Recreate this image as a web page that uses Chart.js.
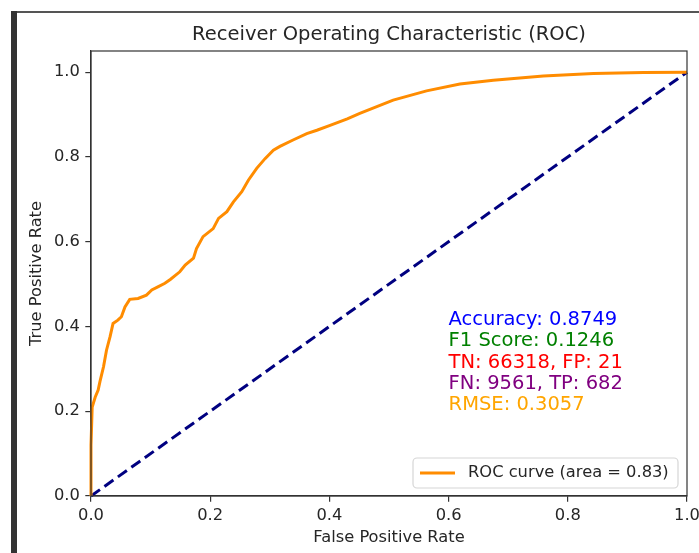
<!DOCTYPE html>
<html>
<head>
<meta charset="utf-8">
<script src="https://cdn.jsdelivr.net/npm/chart.js@4.4.0/dist/chart.umd.min.js"></script>
<style>
  html, body { margin: 0; padding: 0; background: #fff; }
  #wrap { position: relative; width: 699px; height: 553px; overflow: hidden; background: #fff; }
  #c { position: absolute; left: 0; top: 0; }
  #edgeL { position: absolute; left: 11px; top: 11px; width: 6px; height: 542px; background: #333; }
  #edgeT { position: absolute; left: 17px; top: 11px; width: 682px; height: 2px; background: #555; }
</style>
</head>
<body>
<div id="wrap">
  <canvas id="c" width="699" height="553"></canvas>
  <div id="edgeL"></div>
  <div id="edgeT"></div>
</div>
<script>
// ---- data ----
const fpr = [0, 0.0, 0.002, 0.007, 0.012, 0.015, 0.021, 0.026, 0.032, 0.037, 0.045, 0.051, 0.057, 0.065, 0.079, 0.093, 0.102, 0.113, 0.124, 0.133, 0.149, 0.158, 0.172, 0.177, 0.188, 0.205, 0.214, 0.228, 0.239, 0.253, 0.264, 0.278, 0.292, 0.306, 0.317, 0.339, 0.362, 0.379, 0.40, 0.43, 0.451, 0.507, 0.563, 0.619, 0.675, 0.759, 0.843, 0.927, 1.0];
const tpr = [0, 0.12, 0.21, 0.233, 0.25, 0.27, 0.305, 0.344, 0.376, 0.407, 0.415, 0.423, 0.446, 0.464, 0.466, 0.474, 0.486, 0.494, 0.502, 0.511, 0.529, 0.545, 0.561, 0.584, 0.612, 0.631, 0.655, 0.671, 0.694, 0.718, 0.745, 0.773, 0.796, 0.816, 0.825, 0.840, 0.855, 0.863, 0.874, 0.890, 0.903, 0.934, 0.956, 0.972, 0.981, 0.991, 0.997, 0.999, 1.0];
const chanceX = [0, 1];
const chanceY = [0, 1];
const xTicks = [0, 0.2, 0.4, 0.6, 0.8, 1.0];
const yTicks = [0, 0.2, 0.4, 0.6, 0.8, 1.0];
const rocLabel = 'ROC curve (area = 0.83)';
const titleText = 'Receiver Operating Characteristic (ROC)';
const xLabel = 'False Positive Rate';
const yLabel = 'True Positive Rate';
const metricLines = ['Accuracy: 0.8749', 'F1 Score: 0.1246', 'TN: 66318, FP: 21', 'FN: 9561, TP: 682', 'RMSE: 0.3057'];
const metricColors = ['#0000ff', '#008000', '#ff0000', '#800080', '#ffa500'];
const metricX = 0.6;
const metricY = [0.415, 0.365, 0.315, 0.265, 0.215];

const FONT = '"DejaVu Sans", sans-serif';
const TXT = '#262626';

const overlay = {
  id: 'overlay',
  afterDraw(chart) {
    const ctx = chart.ctx;
    const a = chart.chartArea;
    const xs = chart.scales.x, ys = chart.scales.y;
    ctx.save();
    // frame top/right
    ctx.strokeStyle = '#333';
    ctx.lineWidth = 1.2;
    ctx.strokeRect(a.left, a.top, a.right - a.left, a.bottom - a.top);
    // title
    ctx.fillStyle = TXT;
    ctx.textAlign = 'center';
    ctx.textBaseline = 'middle';
    ctx.font = '19.5px ' + FONT;
    ctx.fillText(titleText, (a.left + a.right) / 2, 35);
    // axis labels
    ctx.font = '16.3px ' + FONT;
    ctx.fillText(xLabel, (a.left + a.right) / 2, 538);
    ctx.save();
    ctx.translate(37, (a.top + a.bottom) / 2);
    ctx.rotate(-Math.PI / 2);
    ctx.fillText(yLabel, 0, 0);
    ctx.restore();
    // metric annotations
    ctx.textAlign = 'left';
    ctx.font = '19.5px ' + FONT;
    metricLines.forEach((t, i) => {
      ctx.fillStyle = metricColors[i];
      ctx.fillText(t, xs.getPixelForValue(metricX), ys.getPixelForValue(metricY[i]));
    });
    // legend
    const lx = 413, ly = 458, lw = 265, lh = 30, r = 4;
    ctx.beginPath();
    ctx.moveTo(lx + r, ly);
    ctx.arcTo(lx + lw, ly, lx + lw, ly + lh, r);
    ctx.arcTo(lx + lw, ly + lh, lx, ly + lh, r);
    ctx.arcTo(lx, ly + lh, lx, ly, r);
    ctx.arcTo(lx, ly, lx + lw, ly, r);
    ctx.closePath();
    ctx.fillStyle = 'rgba(255,255,255,0.8)';
    ctx.fill();
    ctx.strokeStyle = '#d6d6d6';
    ctx.lineWidth = 1.2;
    ctx.stroke();
    ctx.beginPath();
    ctx.strokeStyle = '#ff8c00';
    ctx.lineWidth = 3;
    ctx.moveTo(420, ly + lh / 2);
    ctx.lineTo(455, ly + lh / 2);
    ctx.stroke();
    ctx.fillStyle = TXT;
    ctx.font = '16.3px ' + FONT;
    ctx.textBaseline = 'middle';
    ctx.fillText(chart.data.datasets[0].label, 468, ly + lh / 2);
    ctx.restore();
  }
};

function fitX(s) { s.height = 57; s.paddingLeft = 0; s.paddingRight = 0; s.paddingTop = 0; s.paddingBottom = 0; }
function fitY(s) { s.width = 91; s.paddingLeft = 0; s.paddingRight = 0; s.paddingTop = 0; s.paddingBottom = 0; }

new Chart(document.getElementById('c'), {
  type: 'line',
  data: {
    datasets: [
      {
        label: rocLabel,
        data: fpr.map((x, i) => ({ x: x, y: tpr[i] })),
        borderColor: '#ff8c00',
        borderWidth: 3,
        pointRadius: 0,
        tension: 0,
        fill: false
      },
      {
        label: 'chance',
        data: chanceX.map((x, i) => ({ x: x, y: chanceY[i] })),
        borderColor: '#000080',
        borderWidth: 3,
        borderDash: [11, 5.5],
        pointRadius: 0,
        tension: 0,
        fill: false
      }
    ]
  },
  options: {
    responsive: false,
    animation: false,
    devicePixelRatio: 1,
    clip: false,
    layout: { padding: { left: 0, right: 12, top: 51, bottom: 0 } },
    plugins: { legend: { display: false }, title: { display: false }, tooltip: { enabled: false } },
    scales: {
      x: {
        type: 'linear', min: 0, max: 1,
        afterBuildTicks: s => { s.ticks = xTicks.map(v => ({ value: v })); },
        afterFit: fitX,
        grid: { drawOnChartArea: false, drawTicks: true, tickLength: 5.7, color: '#333', lineWidth: 1.2 },
        border: { display: true, color: '#333', width: 1.2 },
        ticks: { padding: 4, color: TXT, font: { family: FONT, size: 16.3 }, maxRotation: 0, autoSkip: false, callback: v => Number(v).toFixed(1) }
      },
      y: {
        type: 'linear', min: 0, max: 1.05,
        afterBuildTicks: s => { s.ticks = yTicks.map(v => ({ value: v })); },
        afterFit: fitY,
        grid: { drawOnChartArea: false, drawTicks: true, tickLength: 5.7, color: '#333', lineWidth: 1.2 },
        border: { display: true, color: '#333', width: 1.2 },
        ticks: { padding: 5.5, color: TXT, font: { family: FONT, size: 16.3 }, autoSkip: false, callback: v => Number(v).toFixed(1) }
      }
    }
  },
  plugins: [overlay]
});
</script>
</body>
</html>
